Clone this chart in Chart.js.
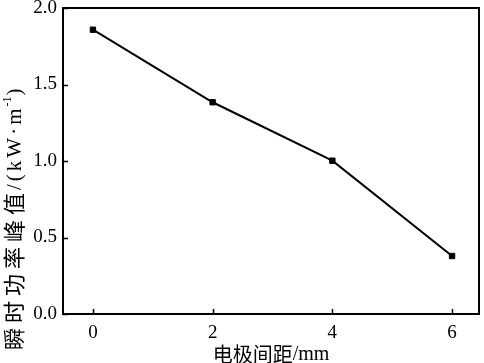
<!DOCTYPE html>
<html>
<head>
<meta charset="utf-8">
<script src="https://cdn.jsdelivr.net/npm/chart.js@4"></script>
<style>
  html, body { margin: 0; padding: 0; background: #fff; }
  #wrap { width: 484px; height: 363px; }
</style>
</head>
<body>
<div id="wrap"><canvas id="power-chart"></canvas></div>
<script>
// 电极间距 vs 瞬时功率峰值
const gaps = [0, 2, 4, 6];
const peakPower = [1.858, 1.384, 1.002, 0.379];
const xTicks = [0, 2, 4, 6];
const yTicks = [0, 0.5, 1.0, 1.5, 2.0];

const xTitle = '电极间距/mm';
const yTitleCn = '瞬时功率峰值';
const yTitleUnit = '/(kW·m';
const yTitleSup = '-1';

const serif = '"Liberation Serif", "Times New Roman", serif';
const cjk = '"Noto Sans CJK SC", sans-serif';

// frame, inward ticks and the axis titles
const framePlugin = {
    id: 'frame',
    afterDraw(chart) {
        const c = chart.ctx;
        const a = chart.chartArea;
        const xs = chart.scales.x;
        const ys = chart.scales.y;
        c.save();
        c.strokeStyle = '#000';
        c.lineWidth = 2;
        c.strokeRect(a.left, a.top, a.right - a.left, a.bottom - a.top);

        c.lineWidth = 1.5;
        c.beginPath();
        xTicks.forEach(v => {
            const px = Math.round(xs.getPixelForValue(v)) + 0.5;
            c.moveTo(px, a.bottom);
            c.lineTo(px, a.bottom - 5);
        });
        yTicks.forEach(v => {
            const py = Math.round(ys.getPixelForValue(v)) + 0.5;
            c.moveTo(a.left, py);
            c.lineTo(a.left + 5, py);
        });
        c.stroke();

        // x title
        const [xCn, xUnit] = [xTitle.slice(0, 4), xTitle.slice(4)];
        c.fillStyle = '#000';
        c.textBaseline = 'middle';
        c.font = '20px ' + cjk;
        const cnW = c.measureText(xCn).width;
        c.font = '20px ' + serif;
        const mmW = c.measureText(xUnit).width;
        const x0 = (a.left + a.right) / 2 - (cnW + mmW) / 2;
        c.font = '20px ' + cjk;
        c.fillText(xCn, x0, 354);
        c.font = '20px ' + serif;
        c.fillText(xUnit, x0 + cnW, 355);

        // y title, rotated, with letter spacing
        c.translate(14, 0);
        c.rotate(-Math.PI / 2);
        let pos = -350;
        c.letterSpacing = '5px';
        c.font = '22px ' + cjk;
        c.fillText(yTitleCn, pos, 0);
        pos += c.measureText(yTitleCn).width - 2;
        c.letterSpacing = '3px';
        c.font = '21px ' + serif;
        c.fillText(yTitleUnit, pos, 1);
        pos += c.measureText(yTitleUnit).width - 1;
        c.letterSpacing = '0px';
        c.font = '12px ' + serif;
        c.fillText(yTitleSup, pos, -6);
        pos += c.measureText(yTitleSup).width + 1;
        c.font = '21px ' + serif;
        c.fillText(')', pos, 1);
        c.restore();
    }
};

const ctx = document.getElementById('power-chart').getContext('2d');

new Chart(ctx, {
    type: 'scatter',
    data: {
        datasets: [{
            label: '瞬时功率峰值',
            data: gaps.map((g, i) => ({ x: g, y: peakPower[i] })),
            showLine: true,
            borderColor: '#000',
            backgroundColor: '#000',
            borderWidth: 2,
            pointStyle: 'rect',
            pointRadius: 3.8,
            pointBorderWidth: 1,
            tension: 0
        }]
    },
    options: {
        responsive: true,
        maintainAspectRatio: false,
        animation: false,
        devicePixelRatio: 1,
        layout: { padding: { top: 8, right: 4, left: 0, bottom: 0 } },
        plugins: {
            legend: { display: false },
            tooltip: { enabled: false }
        },
        scales: {
            x: {
                type: 'linear',
                min: -0.5,
                max: 6.45,
                afterBuildTicks: s => { s.ticks = xTicks.map(v => ({ value: v })); },
                afterFit: s => { s.height = 49; s.paddingLeft = 0; s.paddingRight = 0; },
                grid: { display: false, drawTicks: false },
                border: { display: false },
                ticks: {
                    color: '#000',
                    padding: 8,
                    font: { family: serif, size: 19 },
                    callback: v => String(v)
                }
            },
            y: {
                min: 0,
                max: 2,
                afterBuildTicks: s => { s.ticks = yTicks.map(v => ({ value: v })); },
                afterFit: s => { s.width = 63; s.paddingTop = 0; s.paddingBottom = 0; },
                grid: { display: false, drawTicks: false },
                border: { display: false },
                ticks: {
                    color: '#000',
                    padding: 6,
                    font: { family: serif, size: 19 },
                    callback: v => Number(v).toFixed(1)
                }
            }
        }
    },
    plugins: [framePlugin]
});
</script>
</body>
</html>
